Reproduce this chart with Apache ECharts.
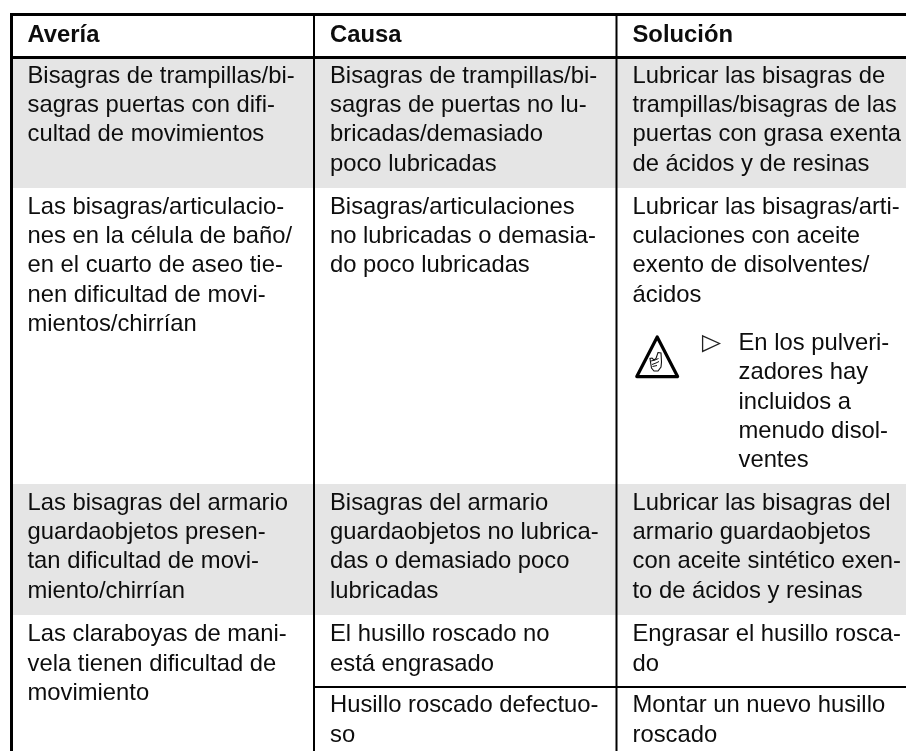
<!DOCTYPE html>
<html><head><meta charset="utf-8">
<style>html,body{margin:0;padding:0;background:#fff}#c{width:906px;height:751px}</style>
<script src="https://cdn.jsdelivr.net/npm/echarts@6/dist/echarts.min.js"></script>
</head><body><div id="c"></div>
<script>
// ---- content ----
const headers = ["Avería", "Causa", "Solución"];
const averia = [
  ["Bisagras de trampillas/bi-", "sagras puertas con difi-", "cultad de movimientos"],
  ["Las bisagras/articulacio-", "nes en la célula de baño/", "en el cuarto de aseo tie-", "nen dificultad de movi-", "mientos/chirrían"],
  ["Las bisagras del armario", "guardaobjetos presen-", "tan dificultad de movi-", "miento/chirrían"],
  ["Las claraboyas de mani-", "vela tienen dificultad de", "movimiento"]
];
const causa = [
  ["Bisagras de trampillas/bi-", "sagras de puertas no lu-", "bricadas/demasiado", "poco lubricadas"],
  ["Bisagras/articulaciones", "no lubricadas o demasia-", "do poco lubricadas"],
  ["Bisagras del armario", "guardaobjetos no lubrica-", "das o demasiado poco", "lubricadas"],
  ["El husillo roscado no", "está engrasado"],
  ["Husillo roscado defectuo-", "so"]
];
const solucion = [
  ["Lubricar las bisagras de", "trampillas/bisagras de las", "puertas con grasa exenta", "de ácidos y de resinas"],
  ["Lubricar las bisagras/arti-", "culaciones con aceite", "exento de disolventes/", "ácidos"],
  ["Lubricar las bisagras del", "armario guardaobjetos", "con aceite sintético exen-", "to de ácidos y resinas"],
  ["Engrasar el husillo rosca-", "do"],
  ["Montar un nuevo husillo", "roscado"]
];
const nota = ["En los pulveri-", "zadores hay", "incluidos a", "menudo disol-", "ventes"];

// ---- layout (page pixels, used as the hidden axes' domain) ----
const W = 906, H = 751, FS = 23.8, LH = 29.35, MID = 7.2;
const textX = [27.5, 330, 632.5], noteX = 738.5;
const averiaY = [83.3, 214.3, 510.4, 641.8];
const causaY = [83.3, 214.3, 510.4, 641.8, 713];
const solucionY = [83.3, 214.3, 510.4, 641.8, 713];
const noteY = 350.7;
const bands = [[59, 188], [484, 615]];
const lines = [
  [10, 14.5, W, 14.5, 3], [10, 57.5, W, 57.5, 3],
  [314.5, 687, W, 687, 2],
  [11.5, 13, 11.5, H, 3], [314, 13, 314, H, 2], [616.5, 13, 616.5, H, 2]
];
const lineFit = { "trampillas/bisagras de las": 0.984 };

function placed(col, blocks, ys) {
  const out = [];
  blocks.forEach((b, i) => b.forEach((t, j) => out.push({ value: [textX[col], ys[i] + j * LH], text: t })));
  return out;
}
const textData = [
  ...headers.map((t, i) => ({ value: [textX[i], 42.2], text: t, bold: true })),
  ...placed(0, averia, averiaY), ...placed(1, causa, causaY), ...placed(2, solucion, solucionY),
  ...nota.map((t, j) => ({ value: [noteX, noteY + j * LH], text: t }))
];

const chart = echarts.init(document.getElementById('c'), null, { renderer: 'canvas' });
const invisibleAxis = (max, inverse) => ({ type: 'value', min: 0, max, inverse, show: false });
const icon = (type, points, style) => ({ type, z: 11, silent: true, shape: { points }, style });
const handStroke = { fill: 'none', stroke: '#111', lineWidth: 1 };
chart.setOption({
  animation: false, tooltip: { show: false },
  grid: { left: 0, right: 0, top: 0, bottom: 0 },
  xAxis: invisibleAxis(W, false), yAxis: invisibleAxis(H, true),
  series: [
    { type: 'custom', coordinateSystem: 'cartesian2d', silent: true, z: 1, clip: false,
      data: bands,
      renderItem(p, api) {
        const a = api.coord([13, api.value(0)]), b = api.coord([W, api.value(1)]);
        return { type: 'rect', shape: { x: a[0], y: a[1], width: b[0] - a[0], height: b[1] - a[1] }, style: { fill: '#e5e5e5' } };
      } },
    { type: 'custom', coordinateSystem: 'cartesian2d', silent: true, z: 2, clip: false,
      data: lines,
      renderItem(p, api) {
        const a = api.coord([api.value(0), api.value(1)]), b = api.coord([api.value(2), api.value(3)]);
        return { type: 'line', shape: { x1: a[0], y1: a[1], x2: b[0], y2: b[1] }, style: { stroke: '#000', lineWidth: api.value(4) } };
      } },
    { type: 'custom', coordinateSystem: 'cartesian2d', silent: true, z: 3, clip: false,
      data: textData, encode: { x: 0, y: 1 },
      renderItem(p, api) {
        const d = textData[p.dataIndex], c = api.coord(d.value);
        return { type: 'text', x: c[0], y: c[1] - MID, scaleX: lineFit[d.text] || 1, style: {
          text: d.text, fill: '#0d0d0d', textAlign: 'left', textVerticalAlign: 'middle', verticalAlign: 'middle',
          font: (d.bold ? 'bold ' : '') + FS + 'px "Liberation Sans", Arial, sans-serif' } };
      } }
  ],
  graphic: { elements: [
    icon('polygon', [[702.6, 335.8], [719.5, 343.5], [702.6, 351.4]], { fill: 'none', stroke: '#222', lineWidth: 1.3 }),
    icon('polygon', [[657.2, 337], [677.6, 376.6], [636.8, 376.6]], { fill: '#fff', stroke: '#000', lineWidth: 3.2, lineJoin: 'round' }),
    icon('polygon', [[658, 352.5], [661, 353], [661.5, 362], [661, 367], [658, 371], [654, 371], [651.5, 368], [650.5, 362], [650, 358.5], [652, 358], [654, 360], [656, 358.5]], { fill: '#fff', stroke: '#111', lineWidth: 1.1 }),
    icon('polyline', [[651, 361], [655, 360], [658.5, 358.5]], handStroke),
    icon('polyline', [[652, 364.5], [656, 363], [659, 361.5]], handStroke),
    icon('polyline', [[652.5, 366.5], [657, 365.5]], handStroke)
  ] }
});
</script></body></html>
